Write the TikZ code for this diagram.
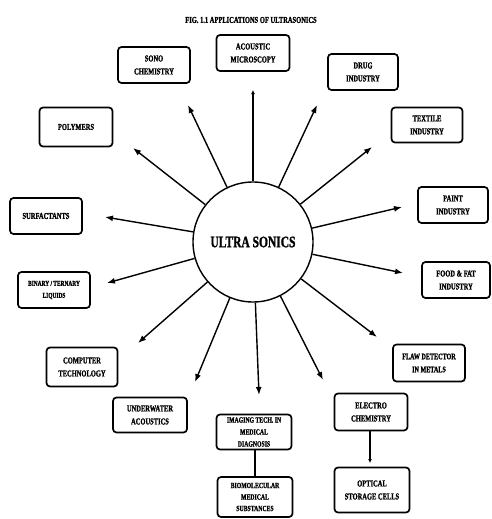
\documentclass[tikz,border=0pt]{standalone}
\usepackage{fontspec}
\newfontfamily\cnd{Liberation Serif}[FakeStretch=0.74]
\newfontfamily\cndb{Liberation Serif Bold}[FakeStretch=0.72,FakeBold=1.2]
\usetikzlibrary{arrows.meta}
\tikzset{
  box/.style={draw, line width=1.7pt, rounded corners=3.5pt, align=center,
    font=\cndb\fontsize{9}{13}\selectfont, inner sep=1pt,
    minimum width=72pt, minimum height=36pt},
  arr/.style={line width=1.4pt, -{Latex[length=8pt,width=6pt]}},
  link/.style={line width=1.4pt},
}
\begin{document}
\begin{tikzpicture}[x=1pt,y=-1pt]
\useasboundingbox (0,0) rectangle (492,519);
\node[font=\cndb\fontsize{9}{11}\selectfont] (title) at (251,20) {FIG. 1.1 APPLICATIONS OF ULTRASONICS};
\node[circle, draw, line width=1.4pt, minimum size=120pt, font=\cndb\fontsize{16}{18}\selectfont] (c) at (253,242) {ULTRA SONICS};

\node[box] (sono) at (154,65) {SONO\\CHEMISTRY};
\node[box, minimum width=73pt] (acou) at (253,53) {ACOUSTIC\\MICROSCOPY};
\node[box, minimum width=70pt] (drug) at (363,72) {DRUG\\INDUSTRY};
\node[box, minimum width=73pt, minimum height=39pt] (poly) at (76,127) {POLYMERS};
\node[box, minimum width=71pt, minimum height=35pt] (text) at (427,125) {TEXTILE\\INDUSTRY};
\node[box] (surf) at (46,216) {SURFACTANTS};
\node[box, minimum width=70pt] (paint) at (453,205) {PAINT\\INDUSTRY};
\node[box, font=\cndb\fontsize{7.5}{12}\selectfont] (bin) at (54,290) {BINARY / TERNARY\\LIQUIDS};
\node[box, minimum width=68pt] (food) at (456,280) {FOOD \& FAT\\INDUSTRY};
\node[box, minimum width=71pt, minimum height=39pt] (comp) at (82,367) {COMPUTER\\TECHNOLOGY};
\node[box, minimum height=37pt, font=\cndb\fontsize{8.5}{13}\selectfont] (flaw) at (429,363) {FLAW DETECTOR\\IN METALS};
\node[box, minimum width=74pt, minimum height=35pt] (under) at (150,415) {UNDERWATER\\ACOUSTICS};
\node[box, minimum width=75pt, minimum height=35pt, font=\cndb\fontsize{8}{12}\selectfont] (imag) at (254,432) {IMAGING TECH. IN\\MEDICAL\\DIAGNOSIS};
\node[box, minimum width=75pt, minimum height=40pt, font=\cndb\fontsize{8}{11.5}\selectfont] (bio) at (255,497) {BIOMOLECULAR\\MEDICAL\\SUBSTANCES};
\node[box, minimum width=73pt, minimum height=37pt] (elec) at (371,412) {ELECTRO\\CHEMISTRY};
\node[box, minimum width=75pt, minimum height=45pt] (opt) at (372,490) {OPTICAL\\STORAGE CELLS};

\coordinate (tsono) at (188,105);
\coordinate (tacou) at (253,90);
\coordinate (tdrug) at (317,105);
\coordinate (tpoly) at (133,148);
\coordinate (ttext) at (372,147);
\coordinate (tsurf) at (105,217);
\coordinate (tpaint) at (402,207);
\coordinate (tbin) at (107,283);
\coordinate (tfood) at (403,273);
\coordinate (tcomp) at (138,343);
\coordinate (tflaw) at (377,337);
\coordinate (tunder) at (195,382);
\coordinate (timag) at (259,395);
\coordinate (telec) at (323,380);
\coordinate (topt) at (370,463);

\foreach \t in {tsono,tdrug,tpoly,ttext,tsurf,tpaint,tbin,tfood,tcomp,tflaw,tunder,timag,telec}
  \draw[arr] (c) -- (\t);
\draw[line width=1.4pt, -{Latex[length=4pt,width=4pt]}] (c) -- (tacou);
\draw[link] (imag.south -| bio.north) -- (bio.north);
\draw[line width=1.4pt, -{Latex[length=4pt,width=4pt]}] (elec.south -| topt) -- (topt);
\end{tikzpicture}
\end{document}
